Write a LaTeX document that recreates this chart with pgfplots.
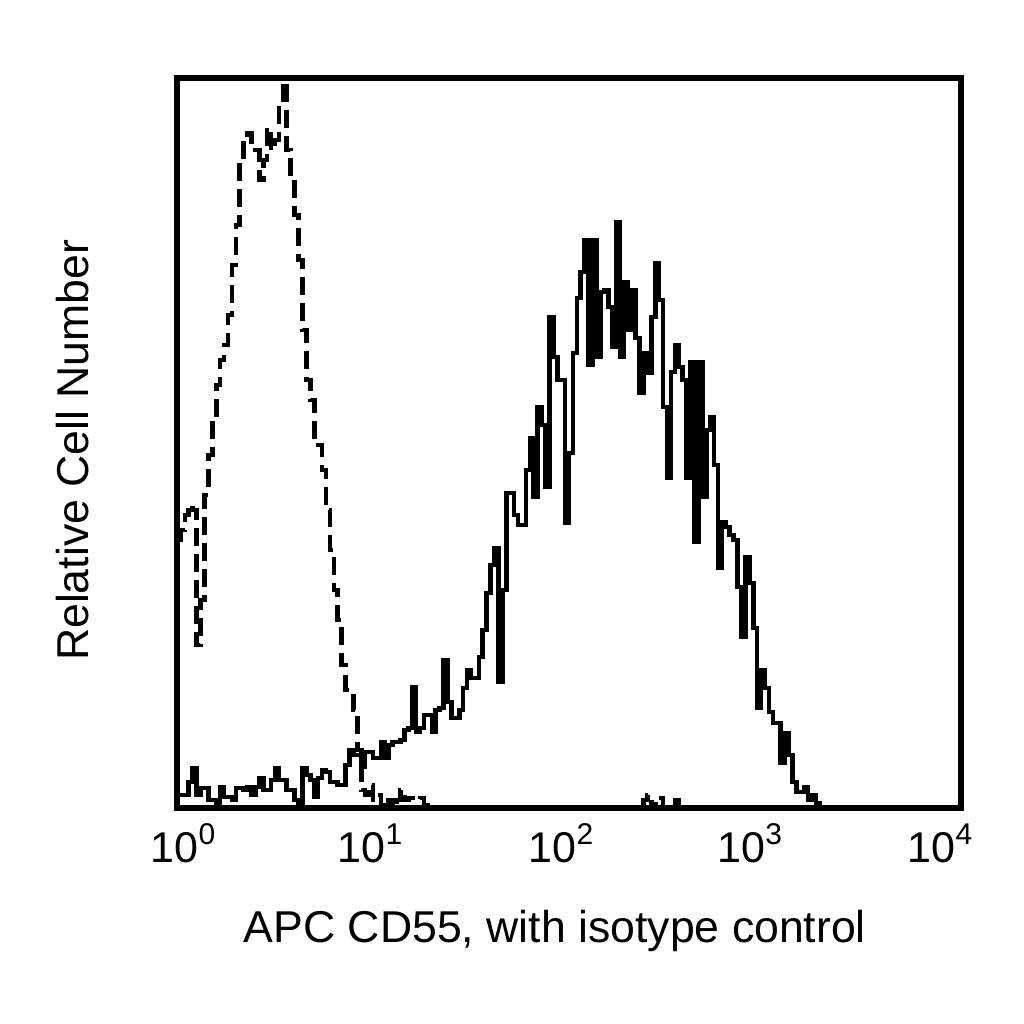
\documentclass[border=0pt]{standalone}
\usepackage{pgfplots}
\pgfplotsset{compat=1.18}
\usepackage{fontspec}
\setmainfont{Liberation Sans}
\newcommand{\dec}[1]{10\raisebox{9pt}{\fontsize{15}{15}\selectfont #1}}

\begin{document}
\begin{tikzpicture}
\useasboundingbox (0,0) rectangle (512pt,512pt);
\begin{axis}[
  at={(88.5pt,108pt)}, anchor=south west,
  scale only axis, width=392pt, height=365pt,
  xmin=0, xmax=4, ymin=0, ymax=730,
  xtick={0.031,0.985,1.959,2.923,3.893},
  xticklabels={\dec{0},\dec{1},\dec{2},\dec{3},\dec{4}},
  major tick length=0pt, xtick style={draw=none},
  ytick=\empty,
  axis on top,
  axis line style={line width=2.8pt},
  xticklabel style={anchor=base, yshift=-27pt, font=\fontsize{21.5}{22}\selectfont},
  xlabel={APC CD55, with isotype control},
  ylabel={Relative Cell Number},
  label style={font=\fontsize{22.3}{24}\selectfont},
  xlabel style={at={(axis description cs:0.482,0)}, anchor=base, yshift=-67pt},
  ylabel style={at={(axis description cs:-0.1135,0.49)}, anchor=base},
]
% isotype control (dashed)
\addplot[const plot, black, line width=2.3pt, dash pattern=on 9pt off 4pt] table {
x y
0.00 268
0.02 278
0.04 293
0.06 303
0.08 298
0.10 163
0.12 208
0.14 313
0.16 353
0.18 388
0.20 423
0.22 448
0.24 463
0.26 493
0.28 543
0.30 583
0.32 648
0.34 668
0.36 675
0.38 663
0.40 658
0.42 628
0.44 648
0.46 680
0.48 658
0.50 668
0.52 708
0.54 726
0.56 658
0.58 628
0.60 593
0.62 548
0.64 478
0.66 428
0.68 408
0.70 368
0.72 363
0.74 338
0.76 298
0.78 258
0.80 218
0.82 188
0.84 143
0.86 118
0.88 118
0.90 98
0.92 58
0.94 18
0.96 13
0.98 23
1.00 8
1.02 13
1.04 3
1.06 0
1.08 8
1.10 0
1.12 8
1.14 18
1.16 8
1.18 10
1.20 10
1.22 8
1.24 10
1.26 3
1.28 0
2.38 8
2.40 13
2.42 0
2.44 10
2.46 10
2.48 0
2.54 8
2.56 0
4.00 0
};
% CD55 (solid)
\addplot[const plot, black, line width=2.3pt] table {
x y
0.00 13
0.02 13
0.04 13
0.06 26
0.08 40
0.10 13
0.12 20
0.14 20
0.16 8
0.18 8
0.20 3
0.22 21
0.24 11
0.26 11
0.28 8
0.30 20
0.32 20
0.34 18
0.36 21
0.38 13
0.40 21
0.42 30
0.44 18
0.46 18
0.48 28
0.50 40
0.52 28
0.54 28
0.56 18
0.58 18
0.60 8
0.62 3
0.64 40
0.66 33
0.68 28
0.70 11
0.72 30
0.74 38
0.76 36
0.78 26
0.80 26
0.82 23
0.84 23
0.86 43
0.88 58
0.90 53
0.92 53
0.94 41
0.96 56
0.98 56
1.00 50
1.02 50
1.04 66
1.06 50
1.08 63
1.10 66
1.12 66
1.14 68
1.16 78
1.18 80
1.20 121
1.22 76
1.24 80
1.26 93
1.28 93
1.30 76
1.32 98
1.34 100
1.36 148
1.38 106
1.40 90
1.42 90
1.44 98
1.46 120
1.48 138
1.50 130
1.52 130
1.54 151
1.56 178
1.58 215
1.60 243
1.62 260
1.64 126
1.66 218
1.68 315
1.70 315
1.72 293
1.74 283
1.76 283
1.78 338
1.80 370
1.82 311
1.84 401
1.86 383
1.88 321
1.90 491
1.92 451
1.94 428
1.96 428
1.98 285
2.00 355
2.02 455
2.04 510
2.06 536
2.08 568
2.10 443
2.12 568
2.14 451
2.16 516
2.18 518
2.20 501
2.22 461
2.24 586
2.26 451
2.28 526
2.30 478
2.32 518
2.34 470
2.36 415
2.38 455
2.40 435
2.42 491
2.44 545
2.46 508
2.48 401
2.50 330
2.52 436
2.54 463
2.56 441
2.58 428
2.60 330
2.62 446
2.64 266
2.66 446
2.68 311
2.70 378
2.72 391
2.74 343
2.76 240
2.78 286
2.80 281
2.82 273
2.84 268
2.86 221
2.88 171
2.90 251
2.92 225
2.94 180
2.96 100
2.98 138
3.00 120
3.02 96
3.04 85
3.06 85
3.08 45
3.10 75
3.12 53
3.14 26
3.16 16
3.18 16
3.20 21
3.22 8
3.24 13
3.26 5
3.28 0
4.00 0
};
\end{axis}
\end{tikzpicture}
\end{document}
